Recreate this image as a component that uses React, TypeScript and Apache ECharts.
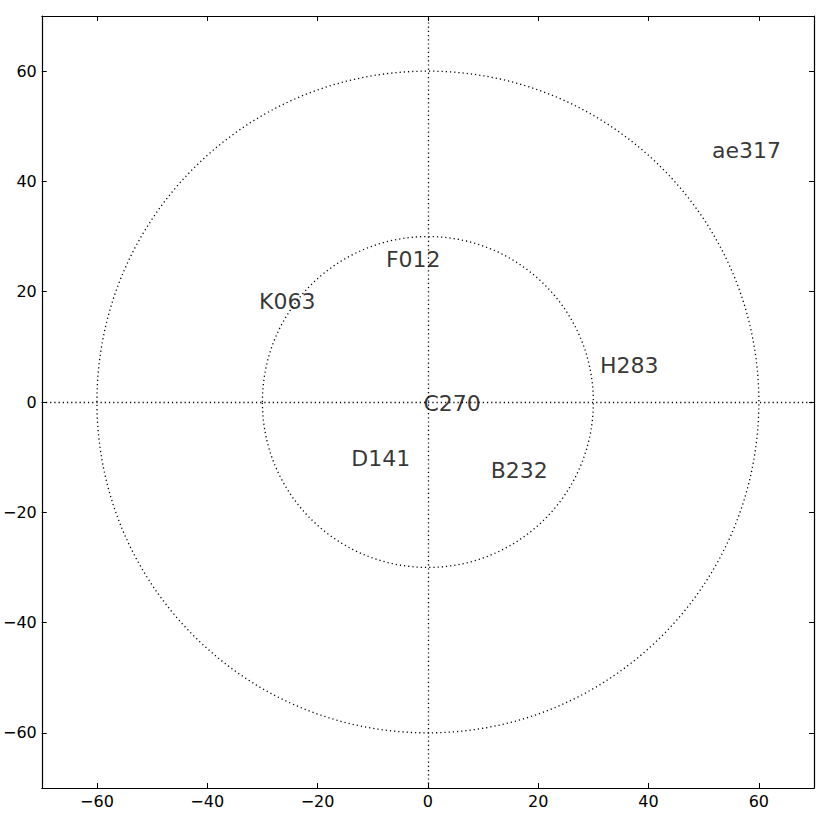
import React, { useEffect, useRef } from "react";
import * as echarts from "echarts";

const labelNames = ["ae317", "F012", "K063", "H283", "C270", "D141", "B232"];
const labelX = [51.5, -7.6, -30.6, 31.2, -0.8, -13.9, 11.4];
const labelY = [45.6, 25.8, 18.2, 6.6, -0.3, -10.2, -12.5];
const circleRadii = [30, 60];
const axisMin = -70;
const axisMax = 70;
const tickValues = [-60, -40, -20, 0, 20, 40, 60];

const FONT = "DejaVu Sans";

export default function App() {
  const ref = useRef<HTMLDivElement>(null);
  useEffect(() => {
    if (!ref.current) return;
    const chart = echarts.init(ref.current, undefined, { renderer: "svg" });
    const baseAxis = (pos: string, showLabel: boolean) => ({
      type: "value",
      position: pos,
      min: axisMin,
      max: axisMax,
      axisLine: { show: true, onZero: false, lineStyle: { color: "#000", width: 1.2 } },
      axisTick: {
        show: true,
        inside: true,
        length: 5,
        customValues: tickValues,
        lineStyle: { color: "#000", width: 1 },
      },
      axisLabel: {
        show: showLabel,
        customValues: tickValues,
        color: "#000",
        fontSize: 16,
        fontFamily: FONT,
        margin: 5,
        formatter: (v: number) => (v < 0 ? "\u2212" + Math.abs(v) : String(v)),
      },
      splitLine: { show: false },
    });
    const option: any = {
      animation: false,
      backgroundColor: "#fff",
      grid: { left: 41, right: 16, top: 16, bottom: 42, containLabel: false },
      xAxis: [baseAxis("bottom", true), baseAxis("top", false)],
      yAxis: [baseAxis("left", true), baseAxis("right", false)],
      series: [
        {
          type: "custom",
          xAxisIndex: 0,
          yAxisIndex: 0,
          silent: true,
          data: circleRadii.map((r) => [0, 0, r]),
          encode: { x: 0, y: 1 },
          renderItem: (params: any, api: any) => {
            const c = api.coord([api.value(0), api.value(1)]);
            const s = api.size([api.value(2), api.value(2)]);
            return {
              type: "ellipse",
              shape: { cx: c[0], cy: c[1], rx: s[0], ry: s[1] },
              style: { fill: "none", stroke: "#000", lineWidth: 1.3, lineDash: [1.2, 3] },
            };
          },
        },
        {
          type: "scatter",
          xAxisIndex: 0,
          yAxisIndex: 0,
          symbolSize: 0,
          silent: true,
          data: labelNames.map((n, i) => ({ name: n, value: [labelX[i], labelY[i]] })),
          label: {
            show: true,
            position: [0, 0],
            align: "left",
            verticalAlign: "middle",
            formatter: (p: any) => p.name,
            color: "#000",
            fontSize: 22,
            fontFamily: FONT,
          },
          markLine: {
            silent: true,
            symbol: ["none", "none"],
            label: { show: false },
            lineStyle: { color: "#000", width: 1.3, type: [1.2, 3] },
            data: [{ xAxis: 0 }, { yAxis: 0 }],
          },
          z: 5,
        },
      ],
    };
    chart.setOption(option);
    return () => chart.dispose();
  }, []);
  return (
    <div
      ref={ref}
      style={{ position: "absolute", left: 0, top: 0, width: 830, height: 830, background: "#fff" }}
    />
  );
}
